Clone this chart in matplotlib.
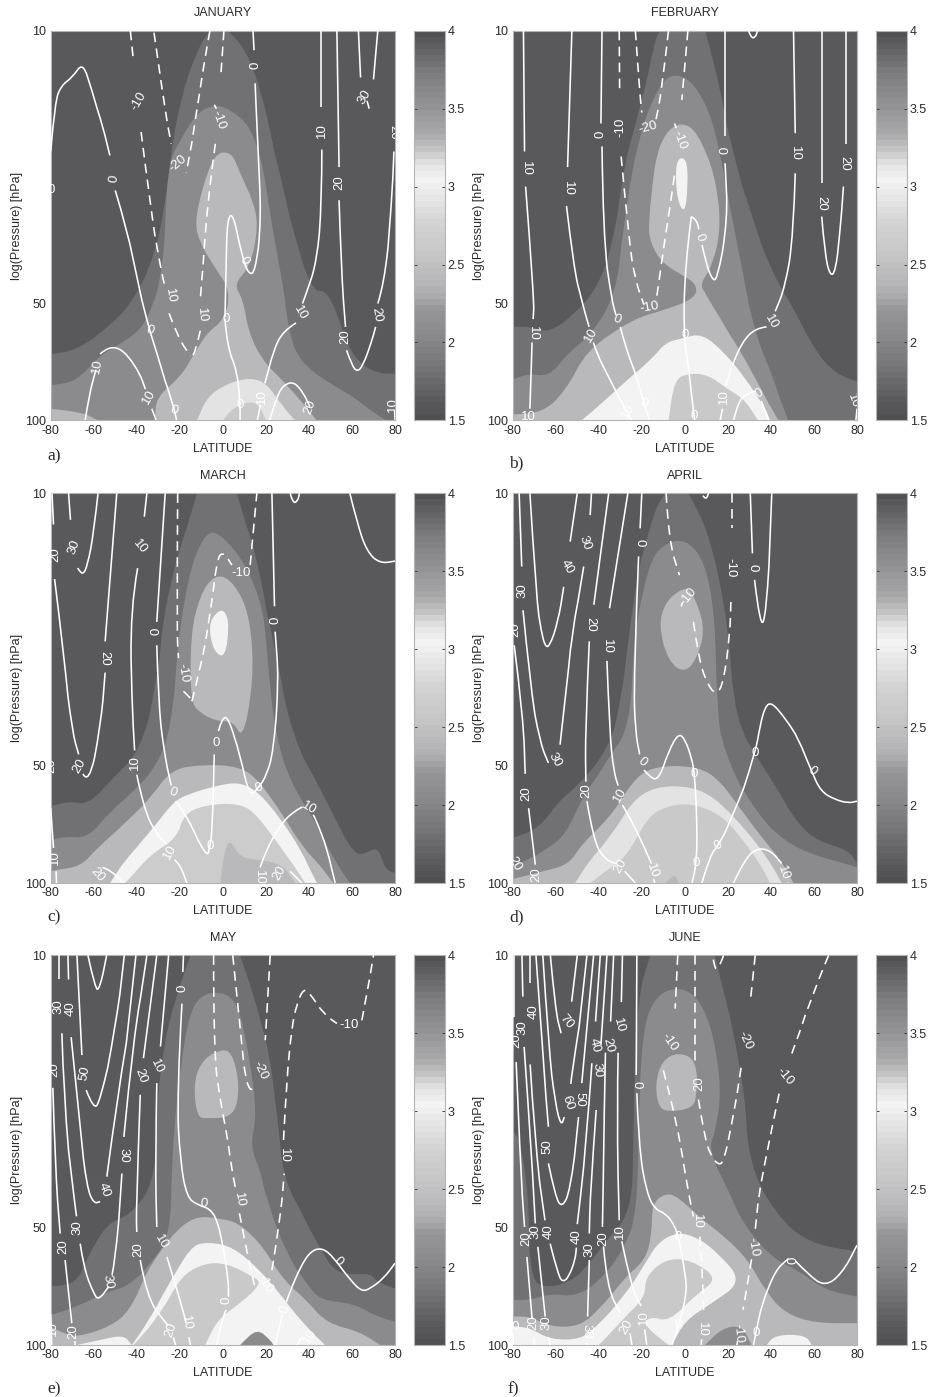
import matplotlib
matplotlib.use("Agg")
import matplotlib.pyplot as plt
from matplotlib.colors import LinearSegmentedColormap, Normalize
from matplotlib.cm import ScalarMappable
from matplotlib.patches import PathPatch
from matplotlib.path import Path

plt.rcParams['font.family'] = ['Liberation Sans', 'DejaVu Sans']
plt.rcParams['axes.unicode_minus'] = False

# every point below is (latitude in degrees, 100*log10(pressure in hPa))
MONTHS = ['JANUARY', 'FEBRUARY', 'MARCH', 'APRIL', 'MAY', 'JUNE']
PANEL_TAGS = ['a)', 'b)', 'c)', 'd)', 'e)', 'f)']
LAT_TICKS = [-80, -60, -40, -20, 0, 20, 40, 60, 80]
P_TICKS = [10, 50, 100]
BAR_TICKS = [1.5, 2, 2.5, 3, 3.5, 4]
BACKGROUND_LEVEL = 1.6

JAN_BANDS = [
 (1.8, [(-80,183),(-68,182),(-51,175),(-41.5,169),(-32,158),(-27,145),(-23,126),(-17,112),(-9,101.5),(-4,100),(2,100),(8,103),(14,109),(20,120),(28,140),(34,154),(42,167),(47.5,166.5),(53,172),(58,181),(65,186),(73,188),(80,188),(80,200),(-80,200)]),
 (2.05, [(-80,191),(-68,190),(-57,183),(-41.5,178.5),(-34,173),(-27.5,160.5),(-26,135),(-20,128),(-12,121),(-4,119),(3,120),(13,124.5),(19,135),(23.5,152),(28,165),(31,178),(36,185),(51,191),(61,194),(70,198),(76,200),(-80,200)]),
 (2.4, [(-80,197),(-65,198),(-58,200),(-80,200)]),
 (2.4, [(-31.5,200),(-31,194),(-20,189),(-14,183.5),(-7.5,177.5),(1,174),(3.5,166.5),(-4,160.5),(-10.5,154.5),(-13,149.5),(-10,141),(-4,131.5),(4,131),(8,136.5),(14,143.5),(16.5,150),(12.7,160.5),(5,165),(9.5,169),(12,177.5),(19,185),(26.6,189),(36,194.7),(43.7,200)]),
 (2.9, [(-12,200),(-7.5,194),(2,190.5),(12.7,189),(20.5,190.5),(28,196.5),(33.6,200)]),
 (2.6, [(0,200),(5,196.5),(16,194.7),(20,200)]),
]
JAN_SOLID = [
 [(-80,131),(-78,118),(-75,114),(-70,112),(-65,108),(-61,115),(-55.5,125),(-52.5,132)],
 [(-50,141),(-44,152),(-40,163),(-35.5,174),(-31,182),(-23,196),(-21.5,200)],
 [(-64,200),(-62,193),(-59,187)],
 [(-57,183),(-55.5,182),(-50,181),(-44.5,183),(-38.5,188),(-36,192)],
 [(-33,197),(-31,200)],
 [(1,173.5),(1.5,160.5),(2,148),(5,147),(9,158),(12,162.5),(15,162),(18,148),(16,126),(15,113.5)],
 [(14.5,105),(14,100)],
 [(1,174),(2,181),(6.5,187),(8,195),(8,200)],
 [(45.5,100),(45.5,119.5)],
 [(46,130.5),(46,143.5),(43.7,159),(39,167),(37,170)],
 [(34,175),(28,177),(23.5,182),(19.5,190.5)],
 [(17.5,196),(16,200)],
 [(53,100),(54,135)],
 [(54,143.5),(55,160.5),(57,176)],
 [(57.5,182),(60,186),(62.5,187.5),(65,186),(69,180),(71,176)],
 [(72,170),(75,165),(78.5,143.5),(79.5,131)],
 [(63,100),(64,112)],
 [(72,100),(70,112.5)],
 [(67,118),(68,120)],
 [(21.7,200),(25,194),(28,191),(33,190),(37.5,193),(40.5,196.5)],
 [(80,200),(79.8,197.5)],
]
JAN_DASHED = [
 [(-43,100),(-41.5,108)],
 [(-38,126),(-34,143.5),(-29,160.5),(-27,165.5)],
 [(-25,172.5),(-21,178.5),(-15,183.5)],
 [(-32,100.5),(-27.5,118),(-24,129)],
 [(-6,100),(-9,109),(-12,120),(-17,136.5)],
 [(0.5,100),(-1,112)],
 [(-4,119),(-3,120)],
 [(-3.5,129),(-7.5,145),(-10.5,169)],
 [(-10.5,177),(-13,183),(-15,183.5)],
]
JAN_LABELS = [('0',-50.5,138,80),('0',-34,177,-20),('0',-22.6,197.5,-20),('10',-58.5,186,80),('10',-34.5,194,60),
 ('0',1.4,174,0),('0',10,159,-60),('0',8,196,0),('0',15,109,90),('10',46,125.5,90),('10',36,172.5,-60),('10',18,194,90),
 ('20',54,139,90),('20',57,178.5,90),('20',71.5,173,-80),('30',66,117,60),('20',79,126,-90),('10',79,196,90),('20',40.5,196.5,70),
 ('0',-80,141,0),('-10',-39,118,60),('10',-24.5,168,-80),('-20',-21,134,40),('-10',-2,123,-70),('10',-10,173,-85)]

FEB_BANDS = [
 (1.8, [(-80,176),(-71,176),(-63,177.5),(-51,172.5),(-41.5,166.5),(-34,156),(-28,133),(-20,118),(-14,102.5),(-11.5,100),(9.5,100),(15.5,112),(22,130.5),(31,147),(40.5,162),(51,171.5),(60.5,182),(70,188),(80,190),(80,200),(-80,200)]),
 (2.05, [(-80,189.5),(-72.5,188),(-63,188.7),(-55,183),(-43,177.6),(-32,167),(-29,152),(-24.5,135),(-18.5,122),(-10.5,112.6),(-3,111),(5,114),(12.5,122),(17,133),(22,147.7),(26.5,160.5),(32.7,177.6),(40.5,188),(48,200),(-80,200)]),
 (2.4, [(-80,198.5),(-66,198),(-55,192),(-46,182),(-24.5,174),(-9,171.6),(5,168.6),(5.5,165),(-1.5,162.6),(-10.5,159.6),(-16,154.5),(-17,149.4),(-14,133),(-9,126),(-1.5,123.4),(6,126),(14,136.6),(17,150),(12.5,160.6),(7,165),(9.5,167.4),(15.6,173),(26.5,182.7),(34,190.4),(43.5,200),(-80,200)]),
 (3.05, [(-48,200),(-38.5,195.5),(-27.7,190),(-15,184),(-9,180),(-1.5,179),(8,177.6),(18.7,182.7),(28,189),(37.3,196.7),(39.6,200)]),
 (2.6, [(-7.6,200),(-5,189.6),(1.7,187.9),(11,188.3),(20,192),(28,194.7),(34,200)]),
 (3.05, [(-4.5,133),(1,132.5),(1.4,140),(0,147),(-3.7,143.4)]),
]
FEB_SOLID = [
 [(-75,100),(-74.5,131)],
 [(-74,140),(-70,169),(-70.5,174)],
 [(-71,180),(-72,197)],
 [(-52.5,100),(-54.5,135)],
 [(-55,145),(-51.7,160.5),(-48,169),(-44.5,176)],
 [(-42.5,180),(-41,182.7),(-35.5,188.7),(-27.7,197),(-24.6,200)],
 [(-38.5,100),(-39,123.8)],
 [(-38.5,129.7),(-38,152),(-34,169),(-32,173)],
 [(-30,176),(-27.7,181),(-22.3,188.7),(-19,195.6),(-16.4,200)],
 [(3,147.7),(5.5,148.5),(6.5,151)],
 [(8,155),(9.5,158.8),(12.5,163.8),(15,164),(20,147.7),(18.7,134)],
 [(18.5,127),(18.5,100)],
 [(3,147.7),(0,160.5),(-0.6,177.6),(1.7,186),(4.3,198.8),(4.5,200)],
 [(50.5,100),(51.3,126.3)],
 [(51.3,136.6),(50.5,152),(46.6,165.6),(42,172)],
 [(38,176),(32.7,176.3),(26.5,180),(21.8,186),(19,191)],
 [(17.5,197),(16.4,200)],
 [(63.6,100),(63.6,139)],
 [(63.6,147.7),(65,157),(67.5,163),(70,161.8),(72,152),(73.7,140)],
 [(75,129),(75,100)],
 [(29.6,100),(30.7,101.8),(32.7,101.8),(33.8,100)],
 [(22.6,200),(25,194.7),(29.6,193),(33,192.5)],
 [(35.5,195),(39,200)],
 [(80,197),(79.5,200)],
]
FEB_DASHED = [
 [(-30.5,100),(-30.3,116)],
 [(-29.6,132.3),(-26,153.7),(-23,164),(-19,170.3)],
 [(-13,168),(-8.4,150),(-4.5,135.7)],
 [(-23,100),(-20.7,117.8),(-20,121)],
 [(-7.6,100),(-10.7,115.2),(-13.8,123.8)],
 [(1.4,100),(-1.4,117.8)],
 [(-4.8,123.8),(-4,125)],
]
FEB_LABELS = [('10',-73.7,135.3,-90),('10',-70.6,177.6,-90),('10',-72.6,199,0),('10',-54.3,140.4,-90),('10',-43.5,178,60),('10',-26.6,197.7,60),
 ('0',-39,126.7,90),('0',-31.6,174,-20),('0',-19,195.6,-20),('0',7,153,-70),('0',18.7,130.6,90),('0',0,178,0),('0',4.3,198.8,0),
 ('10',51,131.6,-90),('10',40,174.8,-60),('10',18,194,90),('20',63.6,144.3,-90),('20',74,134,-90),('0',34.7,193,30),('10',78.4,195,-70),
 ('-10',-30,124.8,90),('-10',-16.4,171,10),('-20',-17,124.8,15),('-10',-2.6,128,-70)]

MAR_BANDS = [
 (1.8, [(-80,180.3),(-71,179),(-63,180),(-51,173),(-38.4,166),(-30.6,148),(-27.6,131),(-21.4,116),(-12,100),(6.5,100),(16,116),(25,141.5),(33,163),(43.7,174),(51.4,182.5),(60.7,192.3),(65.4,192.7),(72.3,190.6),(75.4,196.6),(80,197.4),(80,200),(-80,200)]),
 (2.05, [(-80,189),(-72.5,188),(-63,188.5),(-52.4,181.6),(-41.5,176.5),(-30.6,169.7),(-24,160),(-20.6,135.5),(-15,118.4),(-7.4,109.4),(0.3,111),(11,118.4),(19,129.5),(21,144),(24.3,161),(31.3,174),(42,183),(51.4,193.6),(59,200),(-80,200)]),
 (2.4, [(-80,197),(-77,196.6),(-66,195.7),(-58.5,191),(-43,183.3),(-33.8,178.2),(-24.5,171),(-10.5,169.6),(8,170),(17.3,174),(28,182.5),(37.5,191),(45,195.3),(51.4,200),(-80,200)]),
 (2.4, [(-15,153.4),(-15,135.5),(-10.5,126),(-4.3,121),(3.4,121.8),(11,128.6),(14,139),(13.5,151),(9,163),(5,158.5),(-2.8,158.5),(-10.5,156.4)]),
 (3.05, [(-52.4,200),(-46,194.4),(-33.8,186.8),(-23,179),(-15,177),(-4.3,175.2),(8,174),(17.3,177),(26.6,183.3),(36,191),(43.7,200)]),
 (2.65, [(-45.4,200),(-33.8,192.7),(-21.4,188.5),(-18.3,182.5),(-9,180),(8,179.5),(15.8,182.5),(25,189.3),(32.8,195.3),(38.3,200)]),
 (2.4, [(-1.2,200),(0.3,192.7),(3.4,188.5),(8,193.6),(17.3,194),(28,195.3),(33.6,200)]),
 (3.05, [(-6.7,133.8),(-2.8,130.3),(1,130),(3,133.8),(1,142.3),(-4.3,140.6)]),
]
MAR_SOLID = [
 [(-79.4,100),(-78.7,108)],
 [(-71.7,100),(-70.8,106.8)],
 [(-58,100),(-60,110),(-62.9,118.4),(-65,121),(-67.5,119.2)],
 [(-78.2,122),(-74,140.6),(-70,161),(-67,167)],
 [(-65,172),(-62.4,174.8),(-56.8,159.4),(-54.7,146)],
 [(-54.7,138),(-49.3,100)],
 [(-35.3,100),(-36.5,106)],
 [(-39.6,119.2),(-43,129.5),(-42.3,152.6),(-41,166)],
 [(-40,172.2),(-36.8,180.8),(-30.7,187.6),(-26,190)],
 [(-22.5,194),(-19.8,195.3),(-16.7,200)],
 [(-26.8,100),(-30.7,133)],
 [(-30.7,139),(-30,152.6),(-27.6,165.4),(-24,175)],
 [(-22,179),(-16.7,182.5),(-7.4,193.6),(-6,190.6),(-5,186.8),(-4,167)],
 [(-2,161),(-0.5,157.7),(2.6,157.4),(8,167),(12.4,177.8),(16.6,175.6),(20.4,172.2),(23.5,166),(26,147.4),(24.3,135.5)],
 [(24,129),(22.8,100)],
 [(31.3,100),(32.5,102.6),(34.8,102),(35.6,100)],
 [(59,100),(62.3,107.3),(67,115),(73,118),(80,117.4)],
 [(17.3,196),(20.4,191),(28,184),(34.4,181.2),(37,180.5)],
 [(42,182.5),(43.7,184.2),(48.4,191),(52.2,200)],
 [(-80,180.8),(-78.7,191)],
 [(-77.5,197),(-77.3,200)],
 [(-56,196),(-52.4,196.6),(-46,200)],
 [(31.3,197),(36.7,200)],
]
MAR_DASHED = [
 [(-21,100),(-21.4,135.5),(-20.6,142.3)],
 [(-18.3,150.8),(-15,152.6)],
 [(-14.4,153.4),(-10.5,145),(-5.9,131),(-2.8,116.7),(0.3,115),(4.2,118.4)],
 [(12.7,118.4),(15.8,100)],
]
MAR_LABELS = [('30',-69,113.7,70),('20',-78,115.8,90),('20',-66.6,170,60),('20',-55,142.3,-90),('10',-38.4,113.7,-50),('10',-40.7,169,90),('10',-24.5,192,60),
 ('0',-30.7,135.5,90),('0',-23,176.8,-20),('0',-6,190.6,0),('0',-3,164,0),('0',16.6,175.6,20),('0',24.3,132.6,90),('10',16.6,198.7,-90),('10',39.8,180.8,-30),
 ('10',-78,193.6,90),('20',-58.5,198,-50),('20',26.5,197.4,60),('20',-79.5,170,90),('-10',-18.7,146,-80),('-10',8.4,120.5,0)]

APR_BANDS = [
 (1.8, [(-80,188.5),(-68,186),(-58.7,179),(-49.4,174.8),(-35.5,165.4),(-30,154.3),(-26,135.5),(-21.5,118.4),(-13.8,103.8),(-9,100),(1.7,100),(9.5,108),(15.6,120),(20.3,135.5),(22.6,152.5),(26.5,161),(32.7,167),(42,174.8),(52.8,185),(62,189.3),(76,191.5),(80,195),(80,200),(-80,200)]),
 (2.05, [(-80,195.3),(-74,194.4),(-63.4,191),(-55.6,187.6),(-47.9,178.2),(-35.5,168),(-25.4,159.4),(-23.8,135.5),(-16.9,118.4),(-10.7,113.2),(0.2,111.5),(9.5,117.5),(14,131),(14.9,152.6),(17.2,165.4),(34,182.5),(46.6,189.3),(59,192.7),(74.5,195),(80,196),(80,200),(-80,200)]),
 (2.4, [(-80,199),(-66,197),(-54,195.3),(-48,190),(-34,182.5),(-24.6,174),(-15.3,170),(6.4,170),(17,174),(28,182.5),(37.3,189.3),(45,194.4),(50.5,200),(-80,200)]),
 (2.4, [(-12.2,133.8),(-9,127.8),(-1.4,124.4),(3.2,124.8),(9.4,133.8),(6.4,141.5),(0.2,146.2),(-7.6,143.2)]),
 (2.9, [(-51,200),(-44.7,194.4),(-34,187.6),(-24.6,179),(-13.8,175.2),(3.2,175.2),(14,178.2),(23.4,183.3),(32.7,189.3),(40.4,195.3),(45,200)]),
 (2.6, [(-44,200),(-37,197),(-27.7,193.6),(-17.7,183.3),(-9,180.3),(3.2,179.5),(17,182.5),(26.5,188.5),(35,195),(39.6,200)]),
 (2.4, [(-9,200),(-4.5,197.6),(-3,200)]),
]
APR_SOLID = [
 [(-77,100),(-75.8,118.8)],
 [(-75.2,130),(-72,148.3),(-67.4,163.7),(-63.4,169.2)],
 [(-58,164.5),(-55.6,152.6),(-52.5,135.5),(-47,118.8)],
 [(-72,100),(-69,127),(-66.7,135.5),(-64.9,139.3),(-62.9,139.3),(-59,133),(-56.3,124)],
 [(-50,100),(-53.3,112.4)],
 [(-43.4,100),(-44,105.6)],
 [(-35.4,100),(-42.3,128.6)],
 [(-44.4,138),(-46.3,161),(-46,174)],
 [(-45.5,179),(-42.4,189.3),(-37,194),(-32,195)],
 [(-28,197),(-23,200)],
 [(-26.5,100),(-35,129.5)],
 [(-36.2,143),(-35,161),(-33,171.4),(-31,175)],
 [(-29,180),(-26.2,182.5),(-20,189.3),(-15.5,195)],
 [(-14.5,199),(-14,200)],
 [(-79.3,139),(-75,157.7),(-74.2,172)],
 [(-72.6,180.8),(-69.5,195.3)],
 [(-20,100),(-20.8,109)],
 [(-21.5,116.2),(-23.8,147.4),(-23,161),(-21,167)],
 [(-19,171),(-16,173),(-12.2,173.5),(-7.6,166.2),(-3,161.5),(0.2,163.2),(3.2,168),(4.5,172),(5.6,182.5),(5.6,194.4),(3.3,200)],
 [(30.4,100),(31.4,115.4)],
 [(32.4,122.2),(35,134.6),(37.8,131.2),(40.4,100)],
 [(7.9,200),(11.8,192.7),(15.6,190.4),(21.8,183.3),(32.7,166.7),(35,159.4),(37.3,154.7),(40.4,153.6),(46.6,157.7),(52.8,162.8),(59,171.4),(63.2,176.5),(69.8,178.6),(76,179.5),(80,179)],
 [(22.6,200),(28,193.6),(34.2,190.9),(40.4,191.9),(45,195)],
 [(47.5,200),(48,200)],
]
APR_DASHED = [
 [(-8.7,100),(-7.6,111.5),(-2.5,121)],
 [(4,133),(6.3,142.3),(11,149.6),(14.9,151.7),(18,148.3),(21,135.5),(21.4,127.4)],
 [(21.8,100),(21.8,109)],
 [(8.4,100.6),(9.8,101.7),(11,100)],
 [(-1.7,129),(-1,128)],
]
APR_LABELS = [('30',-75.3,125,90),('30',-60.5,168.4,-60),('40',-55,118.8,-60),('30',-46.3,112.8,-70),('20',-44,133.6,-90),('20',-45.8,176.3,90),('20',-30,195.7,60),
 ('10',-36.2,139.3,-90),('10',-30,177.4,60),('10',-15,197,-70),('20',-73.7,177,90),('20',-69.2,197.9,90),('20',-79,135,90),('20',-79,195,-60),
 ('0',-21.3,112.6,-90),('0',-20,169,-40),('0',4.5,172,0),('0',5.3,194.9,0),('0',31.4,119,-90),('0',32.7,166.7,0),('0',59,171.4,-40),('0',15.6,190.4,30),
 ('10',45.8,197.4,-70),('-10',1.7,126.5,50),('-10',21,119.2,-90)]

MAY_BANDS = [
 (1.8, [(-80,185),(-68,184.2),(-63,177.4),(-54,168.8),(-43,166.7),(-31.4,157.7),(-30.6,135.5),(-26,118.4),(-19.8,107.3),(-15,100),(8,100),(14.3,109.8),(22,125.2),(25.9,144),(28.2,156.8),(36,165.4),(45,174.8),(51.4,180.8),(59,182),(68.5,181.6),(71.6,183.8),(80,185.5),(80,200),(-80,200)]),
 (2.05, [(-80,192.3),(-68,190.2),(-54,186.3),(-44,185),(-32,178.2),(-24.5,171.4),(-23.7,152.6),(-21.4,135.5),(-16.7,116.7),(-10.5,109.8),(1.9,109.4),(8,114),(12.7,127),(15.8,140.6),(12.7,149),(17.4,155),(20.4,162.8),(31.3,178.2),(39,184.2),(45.2,188.5),(60.7,189.3),(71.6,192.7),(80,194),(80,200),(-80,200)]),
 (2.4, [(-80,195.3),(-74,197),(-67.8,198),(-52.4,195.3),(-43,191),(-35.3,180.8),(-24.5,172.2),(-13.6,166.9),(-1.2,167.5),(8,168.8),(18.9,174.8),(28.2,183.3),(39,188.5),(48.3,194.4),(63.8,196.6),(73,200),(-80,200)]),
 (2.4, [(-12,141.5),(-13.6,133),(-10.5,127.8),(-4.3,124.8),(4.2,124),(8,133.8),(5,141.5),(-7.4,141.9)]),
 (3.05, [(-67.8,200),(-57,198.7),(-46,197.4),(-42.3,200)]),
 (3.05, [(-42.3,200),(-35.3,194.4),(-26,185),(-15.2,174.8),(-7.4,173.5),(5,174.8),(17.3,180.8),(26.6,186.8),(36,193.6),(47.5,200)]),
 (2.6, [(-41.5,200),(-29,191.9),(-19.8,182.5),(-9,179),(1.9,179),(14.3,182.5),(18,184.2),(8,189.3),(-2.8,193.6),(-8.2,200)]),
 (2.05, [(8,200),(15.8,195.7),(22,198.7),(23.5,200)]),
]
MAY_SOLID = [
 [(-76,100),(-76,106)],
 [(-72,100),(-71.7,106.2)],
 [(-67.8,100),(-65.5,125.6)],
 [(-63.5,134.6),(-60,139.7),(-57,137.2),(-50,118.4),(-45.8,100)],
 [(-62.7,100),(-59.3,108.7),(-57.3,108.7),(-54,100)],
 [(-70.5,121),(-66.3,144),(-63.2,159.4),(-60,163.7),(-57,163.2)],
 [(-53.9,156.8),(-49.3,137.2),(-40.4,100)],
 [(-74.8,120),(-74,135.5),(-69.4,161),(-68,167)],
 [(-66.3,174),(-64.7,180),(-60,186.8),(-57.8,188.5),(-53,185)],
 [(-51.5,182),(-50,178.2),(-46.9,156)],
 [(-46,146.6),(-41.4,120),(-35.3,100)],
 [(-79,134),(-78,152.6),(-75.6,171.4)],
 [(-73.3,178.2),(-70.2,194.4)],
 [(-68.6,199),(-68.6,200)],
 [(-30.7,100),(-36.9,126.4)],
 [(-38.4,135.8),(-40.3,165.4),(-40,171)],
 [(-38.4,178.2),(-35.3,187.6),(-27.6,193.6),(-25.5,195)],
 [(-23,198),(-22,200)],
 [(-25.2,100),(-29,123.4)],
 [(-30.7,132.8),(-31.4,152.6),(-30.7,169.7)],
 [(-26,177.4),(-19.8,188.5),(-17,194.4)],
 [(-15.8,198),(-15,200)],
 [(-18.3,100),(-18.6,104.3)],
 [(-19,112.4),(-21.4,135.5),(-19.8,152.6),(-16.7,162),(-12,164),(-4.3,165.4),(-0.5,172.2),(2.6,183.3),(2.6,187.6)],
 [(1.5,191),(-0.5,193.6),(-2.8,200)],
 [(24.3,200),(26.6,194.4),(27.8,192)],
 [(29.5,189),(31.3,186),(36,180),(40.6,176),(46,175),(51.4,177.4),(59.2,183.3),(64.6,186.3),(68.5,185.5),(74.7,182.9),(80,179)],
 [(34.4,200),(36.7,198)],
 [(-80,192),(-79.5,200)],
]
MAY_DASHED = [
 [(-4.3,100),(-4.3,124.4),(-1.2,137.2),(1.9,145.7),(5,157.7),(6.2,160.3)],
 [(7.7,166.2),(10.4,173.9),(13.5,181.6),(15,185.5)],
 [(4.6,100),(8.8,122.6),(10.4,131.2),(12.7,134.8),(14.3,133.8)],
 [(22,100),(19.7,121.8)],
 [(22.8,180.8),(26.6,167.9),(28.5,156)],
 [(28.2,147.4),(29.7,131.2),(32,118.4),(34.4,112.4),(37.5,108.5),(40.6,109.8),(46.8,115),(53,117.5)],
 [(64.6,116.7),(66.9,109.8),(70,100)],
 [(14,180),(20,183)],
]
MAY_LABELS = [('50',-64.4,130.3,80),('40',-70.6,113.7,90),('30',-76.4,113.2,90),('40',-55,160.3,-70),('30',-67.5,170,90),('30',-53.6,183.8,-80),('30',-46.4,151.3,-90),
 ('20',-78.4,129.3,90),('20',-74,174.8,90),('20',-69.4,196.6,90),('20',-38.4,131,-70),('20',-39.2,175.6,90),('20',-24.2,196.2,70),
 ('10',-30.6,128.6,-65),('10',-28.7,173.5,-60),('10',-17,194.4,-80),('0',-18.9,108.5,90),('0',-8.7,163.8,-10),('0',1.9,188.5,90),('0',28.7,191,70),('0',53.4,178.6,-45),
 ('10',40.6,197.7,60),('10',-79,195.7,90),('10',7.6,162.8,-80),('-20',17.3,129.5,-65),('-10',19.4,184.2,-60),('10',28.5,151.3,-90),('-10',58.7,118,0)]

JUN_BANDS = [
 (1.8, [(-80,144.9),(-76.5,147.4),(-72.6,161),(-71.9,183.7),(-62.6,185.4),(-51.7,183.2),(-45.5,179.8),(-36.2,173),(-24.6,165.4),(-23.9,144),(-23,122.6),(-20.8,108),(-16,100),(14,100),(21.8,116.7),(28,135.5),(29.6,152.6),(42,166.2),(57.5,173.9),(80,176),(80,200),(-80,200)]),
 (2.05, [(-80,188.4),(-71.9,188.5),(-62.6,186.8),(-51,187.6),(-40,183.8),(-27.7,174.8),(-22.3,165.4),(-21.5,144),(-20,118.4),(-12.2,109),(3.2,108.4),(12.5,117.5),(17.2,133.8),(14,145.7),(11,149.6),(20.3,160.3),(28,169.7),(42,178.2),(52.8,180.8),(65.2,185.9),(80,187.6),(80,200),(-80,200)]),
 (2.4, [(-80,192.7),(-71.9,192.7),(-62.6,195.3),(-49.4,195.3),(-40,191),(-27.7,182.5),(-18.4,178.2),(-15.3,171.4),(-15.3,163.7),(-9,161),(-3,162),(6.4,167),(18.7,172.2),(29.6,178.2),(37.3,185.9),(46.6,191.9),(60.6,194.4),(80,194.4),(80,200),(-80,200)]),
 (2.4, [(-12.2,139),(-13.8,133),(-10.7,127),(-2.9,124.8),(5.6,127),(5.6,136.3),(3.2,139.3),(-7.6,140.2)]),
 (3.05, [(-80,195.2),(-71.9,195.6),(-62.6,198.6),(-48.6,198.6),(-40.9,195.2),(-28.5,187.5),(-19.2,179.8),(-13,173.9),(-4.5,171.2),(3.2,171.8),(12.5,174.8),(27.3,183.3),(12.5,189.3),(0.2,193.6),(-6,200),(-80,200)]),
 (2.6, [(-40,200),(-27.7,192.7),(-18.4,187.6),(-18.4,182.5),(-9,177.8),(3.2,178.2),(15.6,182.9),(4.8,187.2),(-7.6,194),(-15.3,192.7),(-20,194.4),(-7.6,200)]),
 (2.05, [(9.4,200),(17.2,195.7),(26.5,194.9),(31,200)]),
 (3.05, [(38,200),(42,197.4),(56,197.4),(59,200)]),
]
JUN_SOLID = [
 [(-79.3,100),(-79.3,115.8)],
 [(-75.7,100),(-75.3,110.6)],
 [(-71.9,100),(-71.9,107.2)],
 [(-78.4,127.4),(-76.5,152.6),(-74.5,169.7)],
 [(-73.4,177.4),(-71,193.2)],
 [(-70,198),(-70,200)],
 [(-74.7,123.5),(-71,152.6),(-69.5,168.8)],
 [(-68.3,174.8),(-64.9,192.7)],
 [(-63.5,198),(-62.6,200)],
 [(-71.9,128),(-69.9,146),(-65,168)],
 [(-62.6,174),(-58.7,182.5),(-56.4,183.8),(-54,182.5),(-51,178.2),(-50.4,175)],
 [(-50,169),(-48.6,162.8),(-45.5,144),(-43.2,127.7)],
 [(-41.2,139.7),(-44,161),(-44.4,171.4)],
 [(-44.4,178.2),(-45.2,192.7)],
 [(-45.5,200),(-45.6,199.5)],
 [(-69.2,100),(-65.7,127),(-63.4,144)],
 [(-63.4,153.4),(-60.2,162),(-57,164.8),(-53.3,160.3),(-49.4,141.5)],
 [(-47.9,132.8),(-42.4,100)],
 [(-66,100),(-63.4,122.6),(-60.2,138),(-57.5,143.8),(-56,141.5)],
 [(-53,133),(-52.8,131.2),(-45.5,100)],
 [(-62.5,100),(-60.2,114),(-57.5,120)],
 [(-50,100),(-52.6,111.9)],
 [(-39.3,100),(-41.5,117)],
 [(-36.2,100),(-39,123)],
 [(-33.1,100),(-34.5,117)],
 [(-29,100),(-29.5,112)],
 [(-36.9,125),(-37.5,139.7),(-38.3,169.7)],
 [(-37.8,174.7),(-36.2,185),(-30,191.8)],
 [(-25.5,197),(-24.6,200)],
 [(-31,125),(-31.6,139.7),(-30.5,168)],
 [(-29.3,173.4),(-24.6,185.8),(-20.3,190)],
 [(-18.7,196),(-17.7,200)],
 [(-22.3,100),(-22.6,130.7)],
 [(-22.3,135.4),(-21.5,148.3),(-17.7,161),(-13.8,165.2),(-9.1,166.2),(-5.3,168.8),(-2.9,172.2),(0.2,181.6),(0.9,186.8),(-2.9,194.9),(-6,200)],
 [(31.9,200),(33,196.8),(35.8,189.3),(42,180.8),(48.2,177.8)],
 [(51.5,178.5),(57.5,182),(65.2,185),(73,181.6),(80,174.4)],
 [(-80,195),(-79.5,200)],
]
JUN_DASHED = [
 [(-3.3,100),(-4.5,113.7)],
 [(-10,129.5),(-3,144),(1.7,161),(4,167)],
 [(7,172.2),(8.7,186.8),(8.7,192)],
 [(7.8,198.5),(7.6,200)],
 [(4.8,100),(4.8,127)],
 [(6.3,137),(9.4,147.4),(12.5,151.7),(15.6,153.8),(18,153),(21.8,143.2),(26.2,128.6)],
 [(18,100),(14.9,105),(12.9,100.4)],
 [(32.7,100),(30.4,112)],
 [(66.8,100),(57.5,112.4),(49.7,125.2)],
 [(43.8,135.5),(37.3,152.6),(34.2,162),(32.7,170.5)],
 [(31,178),(29.6,182.5),(27,191)],
 [(24.5,199),(24.2,200)],
]
JUN_LABELS = [('20',-78.5,122,90),('30',-75.4,118.5,90),('40',-70.2,114.5,90),('70',-55,117,-50),('20',-73.9,172.6,90),('20',-70.3,194.3,90),('30',-69.2,171,90),('30',-64.4,194.3,90),
 ('40',-63.4,171,90),('40',-50.2,172.2,90),('30',-44.4,175.6,90),('30',-45.5,196.5,-90),('40',-42,123,-75),('30',-40.8,129.5,-85),('20',-35.5,123,-75),('10',-30.5,118,-75),
 ('50',-63.8,149,90),('50',-49,137,-90),('60',-54.5,137.9,-70),('20',-37.8,172.6,90),('20',-27,195.3,60),('10',-30,171,90),('10',-19.2,193,90),
 ('0',-22.6,133.2,-90),('0',-2.9,172.2,0),('0',-2.9,194.9,0),('0',33,196.8,0),('0',50.5,178.2,90),('-10',-7.1,122.2,-55),('10',5.6,168.4,-90),('10',7.9,196,-90),
 ('20',6.8,132.9,90),('-20',28,121.8,-65),('-10',46.6,131.2,-50),('-10',31.9,174.8,-80),('-10',25,197,-85),('0',-79,195.5,0)]

BANDS = [JAN_BANDS, FEB_BANDS, MAR_BANDS, APR_BANDS, MAY_BANDS, JUN_BANDS]
SOLID = [JAN_SOLID, FEB_SOLID, MAR_SOLID, APR_SOLID, MAY_SOLID, JUN_SOLID]
DASHED = [JAN_DASHED, FEB_DASHED, MAR_DASHED, APR_DASHED, MAY_DASHED, JUN_DASHED]
LABELS = [JAN_LABELS, FEB_LABELS, MAR_LABELS, APR_LABELS, MAY_LABELS, JUN_LABELS]

W, H = 930, 1397
AX_LEFT = [50.7, 512.7]
AX_W = 344.3
AX_TOP = [30.7, 493.3, 955.3]
AX_H = 389.7
BAR_LEFT = [414.3, 876.3]
BAR_W = 30.7
TAG_XY = [(47, 456), (509, 463), (47, 917), (509, 917), (47, 1389), (507, 1389)]
INK = '#2a2a2a'

norm = Normalize(1.5, 4)
stops = [(1.5, '#505052'), (1.6, '#59595b'), (1.8, '#727274'), (2.05, '#8b8b8d'), (2.2, '#959597'), (2.3, '#adadaf'),
         (2.4, '#b9b9bb'), (2.6, '#c9c9ca'), (2.75, '#d2d2d3'), (2.9, '#e3e3e3'), (3.05, '#f3f3f3'), (3.15, '#e4e4e4'),
         (3.25, '#c2c2c3'), (3.35, '#a8a8aa'), (3.5, '#969698'), (3.75, '#7b7b7d'), (4.0, '#515153')]
cmap = LinearSegmentedColormap.from_list('tec', [(norm(v), c) for v, c in stops])

fig = plt.figure(figsize=(W / 100, H / 100), dpi=100)


def box(x, y, w, h):
    return [x / W, 1 - (y + h) / H, w / W, h / H]


def on_edge(p):
    return abs(p[0]) >= 80 or p[1] <= 100 or p[1] >= 200


def contour_path(pts, closed):
    """Rounded contour through the read points; points on the plot edge stay sharp."""
    xy = [(p[0], 10 ** (p[1] / 100)) for p in pts]
    mid = lambda a, b: ((a[0] + b[0]) / 2, (a[1] + b[1]) / 2)
    if closed:
        verts, codes = [mid(xy[-1], xy[0])], [Path.MOVETO]
        idx = range(len(xy))
        nxt = lambda i: xy[(i + 1) % len(xy)]
    else:
        verts, codes = [xy[0]], [Path.MOVETO]
        idx = range(1, len(xy) - 1)
        nxt = lambda i: xy[i + 1]
    for i in idx:
        end = mid(xy[i], nxt(i))
        if closed and on_edge(pts[i]):
            verts += [xy[i], end]
            codes += [Path.LINETO, Path.LINETO]
        else:
            verts += [xy[i], end]
            codes += [Path.CURVE3, Path.CURVE3]
    if not closed:
        verts.append(xy[-1])
        codes.append(Path.LINETO)
    return Path(verts, codes)


for i, month in enumerate(MONTHS):
    col, row = i % 2, i // 2
    ax = fig.add_axes(box(AX_LEFT[col], AX_TOP[row], AX_W, AX_H))
    ax.set_facecolor(cmap(norm(BACKGROUND_LEVEL)))
    ax.set_yscale('log')
    ax.set_xlim(-80, 80)
    ax.set_ylim(100, 10)
    for level, pts in BANDS[i]:
        ax.add_patch(PathPatch(contour_path(pts, True), facecolor=cmap(norm(level)), edgecolor='none', lw=0, zorder=2))
    for seg in SOLID[i]:
        ax.add_patch(PathPatch(contour_path(seg, False), fill=False, edgecolor='white', lw=1.15, zorder=3, capstyle='butt'))
    for seg in DASHED[i]:
        ax.add_patch(PathPatch(contour_path(seg, False), fill=False, edgecolor='white', lw=1.15, zorder=3,
                               linestyle=(0, (6, 4)), capstyle='butt'))
    for txt, lat, y, rot in LABELS[i]:
        ax.text(lat, 10 ** (y / 100), txt, color='white', fontsize=9.5, rotation=rot, rotation_mode='anchor',
                ha='center', va='center', zorder=4, clip_on=True)
    ax.set_xticks(LAT_TICKS)
    ax.set_xticklabels([str(v) for v in LAT_TICKS])
    ax.set_yticks(P_TICKS)
    ax.set_yticklabels([str(v) for v in P_TICKS])
    ax.minorticks_off()
    ax.tick_params(length=0, labelsize=9, pad=3, colors=INK)
    for s in ax.spines.values():
        s.set_color('#b4b4b4')
        s.set_linewidth(0.8)
    ax.set_title(month, fontsize=9, color=INK, pad=0, y=1 + 11.5 / AX_H, va='bottom')
    ax.set_xlabel('LATITUDE', fontsize=9, color=INK, va='center')
    ax.xaxis.set_label_coords(0.5, -28.5 / AX_H)
    ax.set_ylabel('log(Pressure) [hPa]', fontsize=9, color=INK, va='center')
    ax.yaxis.set_label_coords(-33.5 / AX_W, 0.5)

    cax = fig.add_axes(box(BAR_LEFT[col], AX_TOP[row], BAR_W, AX_H))
    cb = fig.colorbar(ScalarMappable(norm=norm, cmap=cmap.resampled(64)), cax=cax, ticks=BAR_TICKS)
    cb.ax.set_yticklabels(['%g' % v for v in BAR_TICKS])
    cb.ax.tick_params(labelsize=9, length=2, width=0.6, direction='in', pad=2, left=True, right=True, colors=INK)
    cb.outline.set_edgecolor('#b4b4b4')
    cb.outline.set_linewidth(0.8)
    tx, ty = TAG_XY[i]
    fig.text(tx / W, 1 - ty / H, PANEL_TAGS[i], family=['Liberation Serif'], fontsize=12.5, color=INK, va='center', ha='left')

fig.savefig('out.png', dpi=100, facecolor='white')
